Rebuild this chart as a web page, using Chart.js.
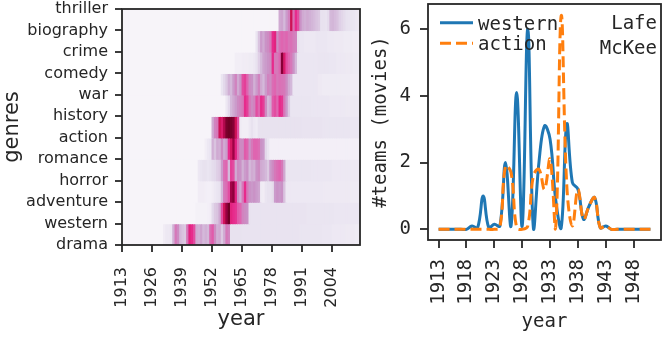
<!DOCTYPE html>
<html>
<head>
<meta charset="utf-8">
<script src="https://cdn.jsdelivr.net/npm/chart.js@4.4.1/dist/chart.umd.min.js"></script>
<style>
  html, body { margin: 0; padding: 0; background: #fff; }
  #wrap { position: relative; width: 662px; height: 340px; }
  #heat { position: absolute; left: 0; top: 0; }
  #teams { position: absolute; left: 368px; top: 0; }
</style>
</head>
<body>
<div id="wrap">
  <canvas id="heat" width="368" height="340"></canvas>
  <canvas id="teams" width="294" height="340"></canvas>
</div>
<script>
// ---- heatmap (left) ----
const genres = ['thriller', 'biography', 'crime', 'comedy', 'war', 'history',
                'action', 'romance', 'horror', 'adventure', 'western', 'drama'];
const heatTicks = [1913, 1926, 1939, 1952, 1965, 1978, 1991, 2004];
const years = [
  1913, 1914, 1915, 1916, 1917, 1918, 1919,
  1920, 1921, 1922, 1923, 1924, 1925, 1926, 1927, 1928, 1929,
  1930, 1931, 1932, 1933, 1934, 1935, 1936, 1937, 1938, 1939,
  1940, 1941, 1942, 1943, 1944, 1945, 1946, 1947, 1948, 1949,
  1950, 1951, 1952, 1953, 1954, 1955, 1956, 1957, 1958, 1959,
  1960, 1961, 1962, 1963, 1964, 1965, 1966, 1967, 1968, 1969,
  1970, 1971, 1972, 1973, 1974, 1975, 1976, 1977, 1978, 1979,
  1980, 1981, 1982, 1983, 1984, 1985, 1986, 1987, 1988, 1989,
  1990, 1991, 1992, 1993, 1994, 1995, 1996, 1997, 1998, 1999,
  2000, 2001, 2002, 2003, 2004, 2005, 2006, 2007, 2008, 2009,
  2010, 2011, 2012, 2013, 2014, 2015
];

// intensidade por ano (0-100), uma linha por faixa do heatmap
const thriller = [
  0, 0, 0, 0, 0, 0, 0,
  0, 0, 0, 0, 0, 0, 0, 0, 0, 0,
  0, 0, 0, 0, 0, 0, 0, 0, 0, 0,
  0, 0, 0, 0, 0, 0, 0, 0, 0, 0,
  0, 0, 0, 0, 0, 0, 0, 0, 0, 0,
  0, 0, 0, 0, 0, 0, 0, 0, 0, 0,
  0, 0, 0, 0, 0, 0, 0, 0, 0, 0,
  0, 30, 32, 25, 35, 42, 75, 48, 62, 55,
  38, 30, 28, 30, 28, 26, 24, 22, 20, 12,
  12, 11, 14, 25, 26, 24, 22, 18, 16, 14,
  12, 11, 10, 9, 8, 7
];
const biography = [
  0, 0, 0, 0, 0, 0, 0,
  0, 0, 0, 0, 0, 0, 0, 0, 0, 0,
  0, 0, 0, 0, 0, 0, 0, 0, 0, 0,
  0, 0, 0, 0, 0, 0, 0, 0, 0, 0,
  0, 0, 0, 0, 0, 0, 0, 0, 0, 0,
  0, 0, 0, 0, 0, 0, 0, 0, 0, 0,
  0, 10, 22, 35, 30, 38, 40, 45, 62, 65,
  40, 48, 50, 48, 50, 46, 47, 44, 42, 12,
  9, 9, 8, 8, 8, 8, 8, 9, 9, 9,
  9, 9, 8, 8, 8, 7, 7, 7, 7, 6,
  6, 6, 6, 5, 5, 5
];
const crime = [
  0, 0, 0, 0, 0, 0, 0,
  0, 0, 0, 0, 0, 0, 0, 0, 0, 0,
  0, 0, 0, 0, 0, 0, 0, 0, 0, 0,
  0, 0, 0, 0, 0, 0, 0, 0, 0, 0,
  0, 0, 0, 0, 0, 0, 0, 0, 0, 0,
  0, 0, 4, 4, 4, 5, 5, 5, 6, 6,
  8, 12, 18, 25, 32, 35, 38, 40, 62, 45,
  45, 50, 92, 70, 55, 50, 45, 38, 25, 10,
  9, 9, 9, 9, 9, 9, 9, 9, 10, 10,
  10, 10, 10, 9, 9, 9, 8, 8, 8, 8,
  7, 7, 7, 6, 6, 6
];
const comedy = [
  0, 0, 0, 0, 0, 0, 0,
  0, 0, 0, 0, 0, 0, 0, 0, 0, 0,
  0, 0, 0, 0, 0, 0, 0, 0, 0, 0,
  0, 0, 0, 0, 0, 0, 0, 0, 0, 0,
  0, 0, 0, 0, 0, 0, 10, 15, 20, 28,
  25, 35, 42, 30, 38, 55, 58, 50, 40, 38,
  28, 35, 42, 30, 25, 35, 42, 40, 48, 50,
  45, 47, 46, 45, 40, 30, 25, 9, 9, 9,
  9, 9, 9, 9, 9, 9, 9, 9, 7, 7,
  6, 6, 6, 6, 6, 6, 6, 6, 6, 6,
  6, 6, 5, 5, 5, 5
];
const war = [
  0, 0, 0, 0, 0, 0, 0,
  0, 0, 0, 0, 0, 0, 0, 0, 0, 0,
  0, 0, 0, 0, 0, 0, 0, 0, 0, 0,
  0, 0, 0, 0, 0, 0, 0, 0, 0, 0,
  0, 0, 0, 0, 0, 0, 0, 0, 8, 15,
  25, 30, 35, 40, 42, 45, 62, 58, 45, 40,
  42, 55, 50, 62, 58, 40, 25, 30, 52, 55,
  50, 62, 60, 45, 35, 20, 10, 10, 10, 10,
  10, 10, 10, 10, 10, 9, 9, 9, 9, 9,
  9, 9, 9, 8, 8, 8, 8, 8, 8, 8,
  7, 7, 7, 7, 7, 7
];
const history = [
  0, 0, 0, 0, 0, 0, 0,
  0, 0, 0, 0, 0, 0, 0, 0, 0, 0,
  0, 0, 0, 0, 0, 0, 0, 0, 0, 0,
  0, 0, 0, 0, 0, 0, 0, 0, 0, 0,
  0, 0, 30, 42, 45, 75, 70, 82, 95, 98,
  96, 92, 75, 55, 6, 4, 4, 4, 8, 12,
  8, 6, 12, 12, 12, 12, 12, 12, 12, 12,
  12, 12, 12, 12, 12, 12, 12, 12, 12, 12,
  12, 11, 11, 11, 11, 11, 11, 11, 11, 11,
  10, 10, 10, 10, 10, 10, 10, 10, 10, 10,
  10, 10, 9, 9, 9, 9
];
const action = [
  0, 0, 0, 0, 0, 0, 0,
  0, 0, 0, 0, 0, 0, 0, 0, 0, 0,
  0, 0, 0, 0, 0, 0, 0, 0, 0, 0,
  0, 0, 0, 0, 0, 0, 0, 0, 0, 4,
  8, 10, 28, 22, 30, 28, 40, 30, 35, 62,
  72, 86, 65, 50, 40, 40, 52, 50, 38, 45,
  50, 50, 48, 38, 35, 15, 10, 3, 3, 3,
  3, 3, 3, 3, 3, 3, 3, 3, 3, 3,
  3, 3, 3, 3, 3, 3, 3, 3, 3, 3,
  3, 3, 3, 3, 3, 3, 3, 3, 3, 3,
  3, 3, 3, 3, 3, 3
];
const romance = [
  0, 0, 0, 0, 0, 0, 0,
  0, 0, 0, 0, 0, 0, 0, 0, 0, 0,
  0, 0, 0, 0, 0, 0, 0, 0, 0, 0,
  0, 0, 0, 0, 0, 0, 8, 10, 12, 12,
  10, 12, 14, 15, 18, 20, 35, 48, 50, 25,
  58, 55, 30, 40, 38, 28, 35, 38, 25, 30,
  28, 38, 40, 30, 28, 25, 20, 35, 40, 45,
  48, 50, 45, 30, 10, 10, 10, 10, 10, 10,
  10, 10, 10, 10, 10, 9, 9, 9, 9, 9,
  9, 9, 9, 9, 8, 8, 8, 8, 8, 8,
  8, 8, 7, 7, 7, 7
];
const horror = [
  0, 0, 0, 0, 0, 0, 0,
  0, 0, 0, 0, 0, 0, 0, 0, 0, 0,
  0, 0, 0, 0, 0, 0, 0, 0, 0, 0,
  0, 0, 0, 0, 0, 0, 5, 5, 5, 4,
  3, 3, 5, 8, 10, 12, 25, 45, 48, 55,
  85, 90, 65, 40, 30, 45, 62, 45, 38, 36,
  38, 35, 32, 6, 5, 10, 12, 12, 14, 35,
  38, 36, 38, 22, 8, 8, 8, 8, 8, 8,
  8, 8, 8, 8, 8, 8, 8, 8, 8, 8,
  7, 7, 7, 7, 7, 7, 7, 7, 7, 7,
  7, 7, 6, 6, 6, 6
];
const adventure = [
  0, 0, 0, 0, 0, 0, 0,
  0, 0, 0, 0, 0, 0, 0, 0, 0, 0,
  0, 0, 0, 0, 0, 0, 0, 0, 0, 0,
  0, 0, 0, 0, 0, 2, 2, 2, 2, 2,
  3, 5, 15, 20, 22, 30, 55, 75, 88, 98,
  65, 62, 60, 52, 50, 42, 40, 38, 12, 11,
  11, 11, 11, 11, 11, 11, 11, 11, 11, 11,
  11, 11, 11, 11, 11, 11, 11, 11, 11, 11,
  11, 11, 11, 10, 10, 10, 10, 10, 10, 10,
  10, 10, 10, 10, 10, 9, 9, 9, 9, 9,
  9, 9, 9, 9, 9, 9
];
const western = [
  0, 0, 0, 0, 0, 0, 0,
  0, 0, 0, 0, 0, 0, 0, 0, 0, 0,
  0, 5, 8, 8, 10, 28, 45, 40, 25, 22,
  20, 45, 65, 62, 55, 30, 28, 32, 25, 28,
  25, 48, 52, 40, 28, 30, 20, 30, 45, 42,
  12, 12, 12, 12, 12, 11, 11, 11, 11, 11,
  11, 11, 11, 11, 11, 11, 11, 11, 11, 11,
  11, 11, 11, 11, 11, 11, 11, 11, 11, 11,
  10, 10, 10, 10, 10, 10, 10, 10, 10, 10,
  9, 9, 9, 9, 8, 8, 8, 8, 8, 8,
  7, 7, 7, 7, 6, 6
];

// ---- Lafe McKee (right) ----
const actorName = ['Lafe', 'McKee'];
const teamYears = [
  1913, 1914, 1915, 1916, 1917, 1918, 1919,
  1920, 1921, 1922, 1923, 1924, 1925, 1926, 1927, 1928, 1929,
  1930, 1931, 1932, 1933, 1934, 1935, 1936, 1937, 1938, 1939,
  1940, 1941, 1942, 1943, 1944, 1945, 1946, 1947, 1948, 1949,
  1950, 1951
];
const westernTeams = [
  0, 0, 0, 0, 0, 0, 0.1,
  0.05, 1.0, 0.05, 0.15, 0.1, 2.0, 0.1, 4.1, 0.1, 6.0,
  0.05, 2.0, 3.1, 2.7, 0.9, 0.05, 3.15, 1.4, 1.2, 0.3,
  0.7, 0.95, 0.05, 0.1, 0, 0, 0, 0, 0, 0,
  0, 0
];
const actionTeams = [
  0, 0, 0, 0, 0, 0, 0,
  0, 0, 0, 0, 0.05, 1.9, 1.7, 0.05, 0, 0.1,
  1.6, 1.8, 1.2, 2.1, 0.05, 6.4, 1.3, 0.1, 1.2, 0.3,
  0.7, 0.95, 0.05, 0.1, 0, 0, 0, 0, 0, 0,
  0, 0
];
const teamTicksX = [1913, 1918, 1923, 1928, 1933, 1938, 1943, 1948];
const teamTicksY = [0, 2, 4, 6];

const ink = '#262626';
const purd = ['#f7f4f9', '#e7e1ef', '#d4b9da', '#c994c7', '#df65b0',
              '#e7298a', '#ce1256', '#980043', '#67001f'];

function heatColor(v) {
  const t = Math.max(0, Math.min(1, v / 100)) * (purd.length - 1);
  const i = Math.min(purd.length - 2, Math.floor(t));
  const f = t - i;
  const a = purd[i], b = purd[i + 1];
  const c = k => Math.round(parseInt(a.substr(k, 2), 16) * (1 - f) + parseInt(b.substr(k, 2), 16) * f);
  return `rgb(${c(1)},${c(3)},${c(5)})`;
}

// moldura completa em volta da área do gráfico
const frame = {
  id: 'frame',
  afterDatasetsDraw(chart) {
    const { ctx, chartArea: a } = chart;
    ctx.save();
    ctx.strokeStyle = ink;
    ctx.lineWidth = 1.8;
    ctx.strokeRect(a.left, a.top, a.right - a.left, a.bottom - a.top);
    ctx.restore();
  }
};

function tickGrid(len) {
  return { drawOnChartArea: false, offset: false, tickLength: len, tickColor: ink, tickWidth: 1.8, lineWidth: 0 };
}

// tamanhos fixos dos eixos, sem a folga automática dos rótulos
function fixX(h) {
  return s => { s.height = h; s.paddingLeft = 0; s.paddingRight = 0; };
}
function fixY(w) {
  return s => { s.width = w; s.paddingTop = 0; s.paddingBottom = 0; };
}

const heatRows = [thriller, biography, crime, comedy, war, history,
                  action, romance, horror, adventure, western];

new Chart(document.getElementById('heat'), {
  type: 'bar',
  data: {
    datasets: heatRows.map((vals, r) => ({
      data: vals.map((v, i) => ({ x: [years[i], years[i] + 1], y: r + 0.5 })),
      backgroundColor: vals.map(heatColor),
      borderWidth: 0,
      inflateAmount: 0.6,
      grouped: false,
      barPercentage: 1,
      categoryPercentage: 1
    }))
  },
  options: {
    indexAxis: 'y',
    responsive: false,
    animation: false,
    events: [],
    layout: { padding: { top: 9, right: 8, left: 0, bottom: 0 } },
    plugins: { legend: { display: false }, tooltip: { enabled: false } },
    scales: {
      x: {
        type: 'linear', min: 1913, max: 2016, offset: false,
        grid: tickGrid(7),
        border: { display: false },
        afterBuildTicks: s => { s.ticks = heatTicks.map(v => ({ value: v })); },
        afterFit: fixX(95),
        ticks: {
          minRotation: 90, maxRotation: 90, padding: 15, autoSkip: false, color: ink,
          font: { family: 'DejaVu Sans', size: 16 },
          callback: v => String(v)
        },
        title: {
          display: true, text: 'year', color: ink,
          font: { family: 'DejaVu Sans', size: 21 },
          padding: { top: 0, bottom: 8 }
        }
      },
      y: {
        type: 'linear', min: 0, max: 11, reverse: true, offset: false,
        grid: tickGrid(7),
        border: { display: false },
        afterBuildTicks: s => { s.ticks = genres.map((g, i) => ({ value: i })); },
        afterFit: fixY(122),
        ticks: {
          padding: 7, autoSkip: false, color: ink,
          font: { family: 'DejaVu Sans', size: 16 },
          callback: v => genres[v]
        },
        title: {
          display: true, text: 'genres', color: ink,
          font: { family: 'DejaVu Sans', size: 21 },
          padding: { top: 0, bottom: 0 }
        }
      }
    }
  },
  plugins: [frame]
});

// legenda dentro do gráfico, sem caixa, como no original
const legendInside = {
  id: 'legendInside',
  afterDatasetsDraw(chart) {
    const { ctx, chartArea: a } = chart;
    ctx.save();
    ctx.font = '19px "DejaVu Sans Mono"';
    ctx.fillStyle = ink;
    chart.data.datasets.forEach((ds, i) => {
      const y = a.top + 18.7 + i * 20.6;
      ctx.strokeStyle = ds.borderColor;
      ctx.lineWidth = ds.borderWidth;
      ctx.setLineDash(ds.borderDash || []);
      ctx.beginPath();
      ctx.moveTo(a.left + 12, y);
      ctx.lineTo(a.left + 45, y);
      ctx.stroke();
      ctx.setLineDash([]);
      ctx.textAlign = 'left';
      ctx.fillText(ds.label, a.left + 50, y + 7);
    });
    ctx.textAlign = 'right';
    actorName.forEach((w, i) => ctx.fillText(w, a.right - 4, a.top + 25 + i * 25));
    ctx.restore();
  }
};

const mono = 'DejaVu Sans Mono';

new Chart(document.getElementById('teams'), {
  type: 'line',
  data: {
    datasets: [
      {
        label: 'western',
        data: teamYears.map((x, i) => ({ x, y: westernTeams[i] })),
        borderColor: '#1f77b4', borderWidth: 3, pointRadius: 0, tension: 0.4, order: 1
      },
      {
        label: 'action',
        data: teamYears.map((x, i) => ({ x, y: actionTeams[i] })),
        borderColor: '#ff7f0e', borderWidth: 3, borderDash: [11, 5], pointRadius: 0, tension: 0.4, order: 0
      }
    ]
  },
  options: {
    responsive: false,
    animation: false,
    events: [],
    layout: { padding: { top: 4, right: 1, left: 0, bottom: 0 } },
    plugins: { legend: { display: false }, tooltip: { enabled: false } },
    scales: {
      x: {
        type: 'linear', min: 1911.1, max: 1952.9, offset: false,
        grid: tickGrid(8),
        border: { display: false },
        afterBuildTicks: s => { s.ticks = teamTicksX.map(v => ({ value: v })); },
        afterFit: fixX(100),
        ticks: {
          minRotation: 90, maxRotation: 90, padding: 11, autoSkip: false, color: ink,
          font: { family: mono, size: 19 },
          callback: v => String(v)
        },
        title: {
          display: true, text: 'year', color: ink,
          font: { family: mono, size: 19 },
          padding: { top: 0, bottom: 7 }
        }
      },
      y: {
        type: 'linear', min: -0.32, max: 6.75, offset: false,
        grid: tickGrid(8),
        border: { display: false },
        afterBuildTicks: s => { s.ticks = teamTicksY.map(v => ({ value: v })); },
        afterFit: fixY(60),
        ticks: {
          padding: 9, autoSkip: false, color: ink,
          font: { family: mono, size: 19 },
          callback: v => String(v)
        },
        title: {
          display: true, text: '#teams (movies)', color: ink,
          font: { family: mono, size: 19 },
          padding: { top: 2, bottom: 0 }
        }
      }
    }
  },
  plugins: [frame, legendInside]
});
</script>
</body>
</html>
